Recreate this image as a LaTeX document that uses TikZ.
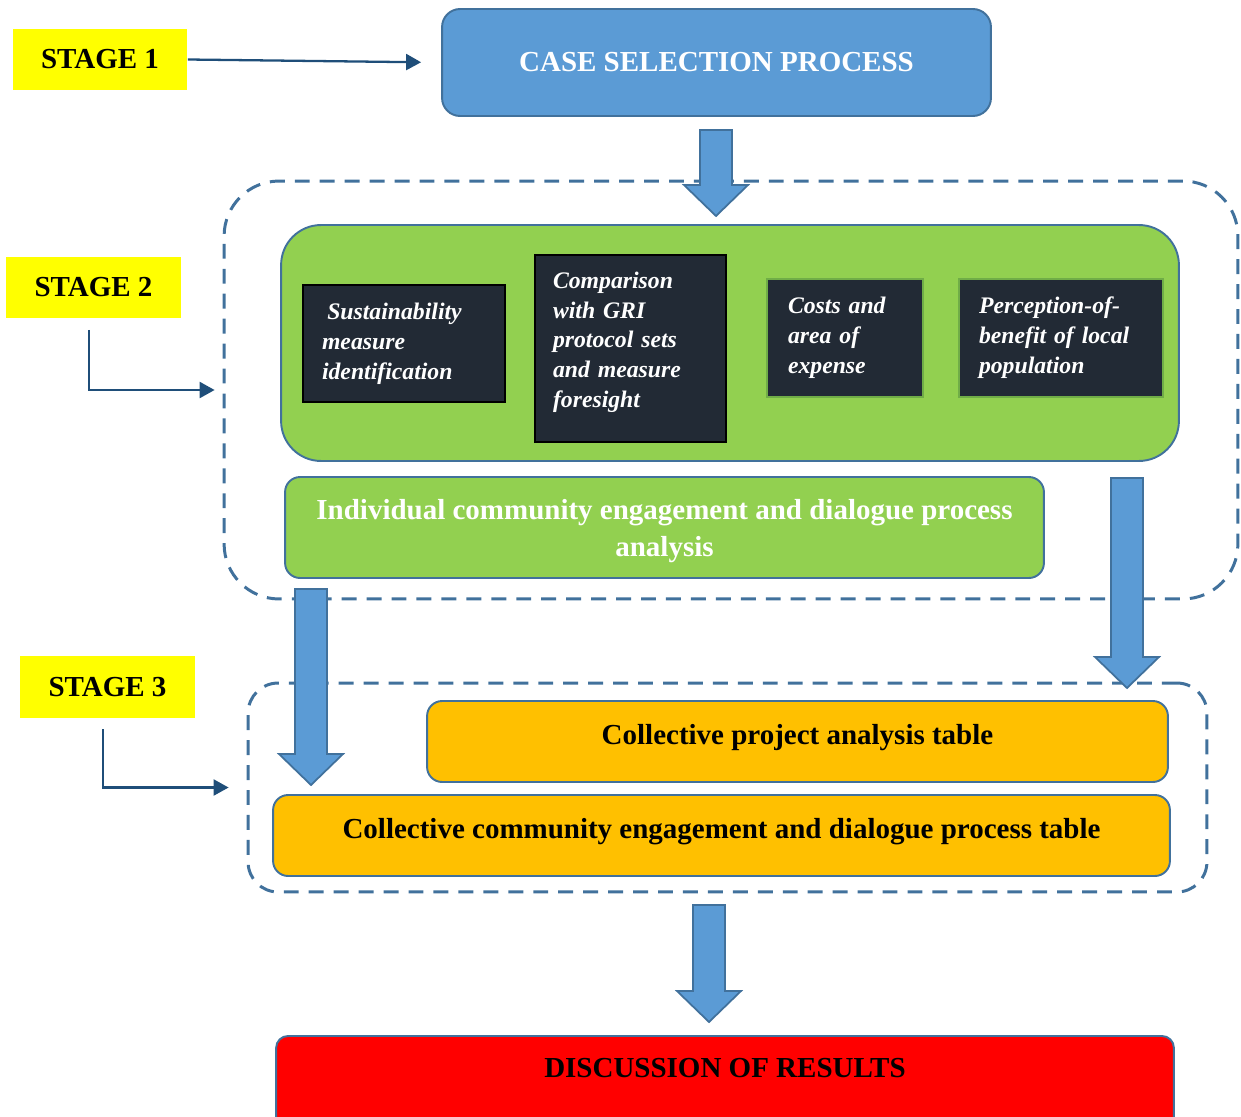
\documentclass[tikz,border=0pt]{standalone}
\usepackage{fontspec}
\setmainfont{Liberation Serif}
\usetikzlibrary{arrows.meta,calc}

\definecolor{stageyellow}{HTML}{FFFF00}
\definecolor{boxblue}{HTML}{5B9BD5}
\definecolor{edgeblue}{HTML}{41719C}
\definecolor{arrowblue}{HTML}{1F4E79}
\definecolor{boxgreen}{HTML}{92D050}
\definecolor{edgegreen}{HTML}{70AD47}
\definecolor{boxdark}{HTML}{222A35}
\definecolor{boxorange}{HTML}{FFC000}

% thick blue block arrow, from top of shaft #1 to tip #2
\newcommand{\bigarrow}[2]{%
  \draw[bigarrow] ($(#1)+(-16,0)$) -- ($(#1)+(16,0)$) -- ($(#2)+(16,-31)$)
    -- ($(#2)+(32,-31)$) -- (#2) -- ($(#2)+(-32,-31)$) -- ($(#2)+(-16,-31)$) -- cycle;}

\begin{document}
\begin{tikzpicture}[x=0.02cm, y=-0.02cm,
    bigfont/.style={font=\fontsize{16.5}{20}\selectfont\bfseries},
    stagebox/.style={bigfont, fill=stageyellow, minimum width=3.5cm, minimum height=1.24cm},
    stagearrow/.style={draw=arrowblue, line width=1.3pt, -{Triangle[length=0.3cm,width=0.32cm]}},
    stagegroup/.style={draw=edgeblue, line width=1.7pt, dash pattern=on 8.5pt off 5.7pt},
    bigarrow/.style={fill=boxblue, draw=edgeblue, line width=1pt},
    darkbox/.style={fill=boxdark, text=white, align=left, inner ysep=0pt,
        font=\fontsize{13.5}{17}\selectfont\bfseries\itshape},
    tablebox/.style={bigfont, fill=boxorange, draw=edgeblue, line width=1.1pt, text depth=0.3cm,
        rounded corners=0.3cm, minimum width=17.94cm, minimum height=1.62cm}]
    \useasboundingbox (0,0) rectangle (1241,1116);

    % dashed stage groups
    \node[stagegroup, rounded corners=1.1cm, minimum width=20.28cm, minimum height=8.36cm] (dash2) at (731,390) {};
    \node[stagegroup, rounded corners=0.6cm, minimum width=19.18cm, minimum height=4.18cm] (dash3) at (727.5,787.5) {};

    % stage 1
    \node[bigfont, text=white, fill=boxblue, draw=edgeblue, line width=1.1pt, rounded corners=0.36cm,
        minimum width=10.98cm, minimum height=2.14cm] (case) at (716.5,62.5) {CASE SELECTION PROCESS};

    % stage 2
    \node[fill=boxgreen, draw=edgeblue, line width=1.1pt, rounded corners=0.8cm,
        minimum width=17.96cm, minimum height=4.72cm] (measures) at (730,343) {};
    \node[darkbox, draw=black, line width=0.8pt, minimum width=4.04cm, minimum height=2.34cm,
        text width=3.28cm, inner xsep=0.38cm] (sustain) at (404,343.5)
        {\hspace{3pt}Sustainability\\measure\\identification};
    \node[darkbox, draw=black, line width=0.8pt, minimum width=3.82cm, minimum height=3.74cm,
        text width=3.1cm, inner xsep=0.36cm] (gri) at (630.5,348.5)
        {Comparison\\with GRI\\protocol sets\\and measure\\foresight\rule[-10pt]{0pt}{1pt}};
    \node[darkbox, draw=edgegreen, line width=1.2pt, minimum width=3.12cm, minimum height=2.36cm,
        text width=2.28cm, inner xsep=0.42cm] (costs) at (845,338)
        {Costs and\\area of\\expense};
    \node[darkbox, draw=edgegreen, line width=1.2pt, minimum width=4.08cm, minimum height=2.36cm,
        text width=3.28cm, inner xsep=0.4cm] (benefit) at (1061,338)
        {Perception-of-\\benefit of local\\population};
    \node[bigfont, font=\fontsize{16.5}{21}\selectfont\bfseries, text=white, fill=boxgreen, draw=edgeblue,
        line width=1.1pt, rounded corners=0.3cm, align=center, minimum width=15.18cm, minimum height=2.02cm]
        (dialogue) at (664.5,527.5)
        {\rule{0pt}{16pt}Individual community engagement and dialogue process\\analysis};

    % stage 3
    \node[tablebox, minimum width=14.82cm] (project) at (797.5,741.5) {Collective project analysis table};
    \node[tablebox] (community) at (721.5,835.5) {Collective community engagement and dialogue process table};

    % results
    \node[bigfont, fill=red, draw=edgeblue, line width=1.1pt, rounded corners=0.24cm, anchor=north,
        minimum width=17.96cm, inner ysep=0pt, text height=0.84cm, text depth=1.6cm] (results) at (725,1035)
        {DISCUSSION OF RESULTS};

    % block arrows
    \coordinate (a1s) at (716,130);  \coordinate (a1t) at (716,216);
    \coordinate (a2s) at (1127,478); \coordinate (a2t) at (1127,688);
    \coordinate (a3s) at (311,589);  \coordinate (a3t) at (311,785);
    \coordinate (a4s) at (709,905);  \coordinate (a4t) at (709,1022);
    \bigarrow{a1s}{a1t}
    \bigarrow{a2s}{a2t}
    \bigarrow{a3s}{a3t}
    \bigarrow{a4s}{a4t}

    % stage labels
    \node[stagebox] (stage1) at (100,59.5) {STAGE 1};
    \node[stagebox] (stage2) at (93.5,287.5) {STAGE 2};
    \node[stagebox] (stage3) at (107.5,687) {STAGE 3};

    \draw[stagearrow, shorten >=0.4cm] (stage1.east) -- (case.west);
    \draw[stagearrow, shorten <=0.22cm, shorten >=0.16cm] ([xshift=-0.09cm]stage2.south) |- (dash2.west);
    \draw[stagearrow, shorten <=0.22cm, shorten >=0.36cm] ([xshift=-0.09cm]stage3.south) |- (dash3.west);
\end{tikzpicture}
\end{document}
